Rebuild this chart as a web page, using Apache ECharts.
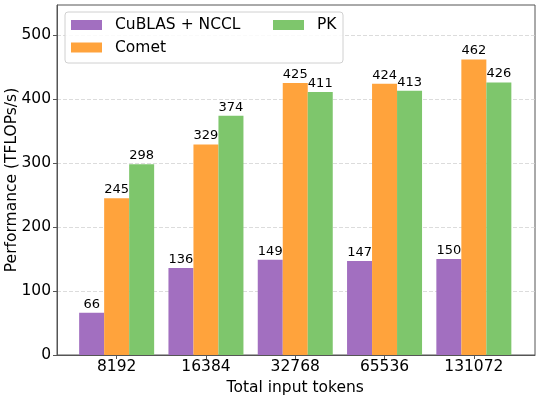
<!DOCTYPE html>
<html>
<head>
<meta charset="utf-8">
<script src="https://cdn.jsdelivr.net/npm/echarts@6/dist/echarts.min.js"></script>
<style>
  html, body { margin: 0; padding: 0; background: #fff; }
  #chart { width: 540px; height: 398px; }
</style>
</head>
<body>
<div id="chart"></div>
<script>
// values
const tokens = ['8192', '16384', '32768', '65536', '131072'];
const cublasNccl = [66, 136, 149, 147, 150];
const comet = [245, 329, 425, 424, 462];
const pk = [298, 374, 411, 413, 426];
const yTicks = [0, 100, 200, 300, 400, 500];
const yMax = 547;

const FONT = 'DejaVu Sans';
const AXIS_COLOR = '#555';

function barSeries(name, data, color) {
  return {
    name: name,
    type: 'bar',
    xAxisIndex: 1,
    yAxisIndex: 1,
    data: data,
    barWidth: 25,
    barGap: '0%',
    itemStyle: { color: color },
    label: {
      show: true,
      position: 'top',
      distance: 2,
      color: '#000',
      fontFamily: FONT,
      fontSize: 13
    }
  };
}

const chart = echarts.init(document.getElementById('chart'));

const option = {
  animation: false,
  textStyle: { fontFamily: FONT },
  grid: [
    // outer frame, like the matplotlib spines
    { left: 57, right: 5, top: 5, bottom: 43, outerBoundsMode: 'none', show: true, borderColor: AXIS_COLOR, borderWidth: 1, backgroundColor: 'transparent' },
    // bar area (matplotlib leaves margins on both sides of the groups)
    { left: 72, right: 21.5, top: 5, bottom: 43, outerBoundsMode: 'none' }
  ],
  graphic: [{
    type: 'rect',
    z: 3,
    shape: { x: 65, y: 12, width: 278, height: 51, r: 3 },
    style: { fill: 'rgba(255,255,255,0.85)', stroke: '#d0d0d0', lineWidth: 1 }
  }],
  legend: [
    {
      data: ['CuBLAS + NCCL', 'Comet'],
      orient: 'vertical',
      left: 71, top: 17,
      padding: 0,
      itemWidth: 31, itemHeight: 10,
      itemGap: 6.5,
      icon: 'rect',
      z: 4,
      textStyle: { fontFamily: FONT, fontSize: 15.5, color: '#000', lineHeight: 16, padding: [0, 0, 0, 8] }
    },
    {
      data: ['PK'],
      orient: 'vertical',
      left: 273, top: 17,
      padding: 0,
      itemWidth: 31, itemHeight: 10,
      icon: 'rect',
      z: 4,
      textStyle: { fontFamily: FONT, fontSize: 15.5, color: '#000', lineHeight: 16, padding: [0, 0, 0, 8] }
    }
  ],
  xAxis: [
    {
      gridIndex: 0,
      type: 'value',
      min: 0, max: 1,
      z: 5,
      axisLine: { show: true, lineStyle: { color: AXIS_COLOR, width: 1 } },
      axisTick: { show: false },
      axisLabel: { show: false },
      splitLine: { show: false }
    },
    {
      gridIndex: 1,
      type: 'category',
      data: tokens,
      name: 'Total input tokens',
      nameLocation: 'middle',
      nameGap: 21,
      nameTextStyle: { fontFamily: FONT, fontSize: 15.5, color: '#000' },
      axisLine: { show: false },
      axisTick: { show: true, alignWithLabel: true, length: 4, lineStyle: { color: AXIS_COLOR } },
      axisLabel: { fontFamily: FONT, fontSize: 15.5, color: '#000', margin: 4 }
    }
  ],
  yAxis: [
    {
      gridIndex: 0,
      type: 'value',
      min: 0, max: yMax,
      interval: 100,
      name: 'Performance (TFLOPs/s)',
      nameLocation: 'middle',
      nameGap: 37,
      nameMoveOverlap: false,
      nameTextStyle: { fontFamily: FONT, fontSize: 15.5, color: '#000' },
      axisLine: { show: true, lineStyle: { color: AXIS_COLOR, width: 1 } },
      axisTick: { show: true, length: 4, customValues: yTicks, lineStyle: { color: AXIS_COLOR } },
      axisLabel: { fontFamily: FONT, fontSize: 15.5, color: '#000', margin: 6, customValues: yTicks },
      splitLine: { show: true, lineStyle: { color: '#d3d3d3', width: 0.8, type: [4, 2] } }
    },
    {
      gridIndex: 1,
      type: 'value',
      min: 0, max: yMax,
      show: false,
      splitLine: { show: false }
    }
  ],
  series: [
    barSeries('CuBLAS + NCCL', cublasNccl, '#a26fc0'),
    barSeries('Comet', comet, '#ffa33c'),
    barSeries('PK', pk, '#7ec66c')
  ]
};

chart.setOption(option);
</script>
</body>
</html>
